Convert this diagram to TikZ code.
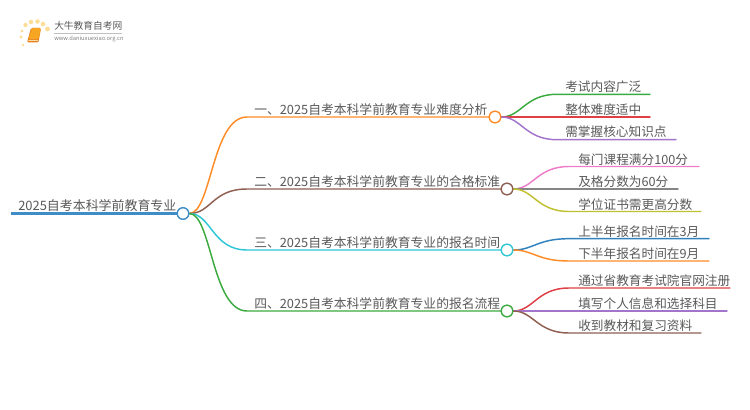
\documentclass[tikz,border=0pt]{standalone}
\usepackage{fontspec}
\setmainfont{Noto Sans CJK SC}[Scale=1]
\usetikzlibrary{calc}
\definecolor{txt}{HTML}{595959}
\definecolor{cblue}{HTML}{3F8CC6}
\definecolor{corange}{HTML}{FF8C26}
\definecolor{cbrown}{HTML}{8F5F52}
\definecolor{ccyan}{HTML}{2FC6D8}
\definecolor{cgreen}{HTML}{3BAA3F}
\definecolor{cred}{HTML}{DF4045}
\definecolor{cpurple}{HTML}{A274CC}
\definecolor{cpink}{HTML}{EE7CC8}
\definecolor{cgray}{HTML}{858585}
\definecolor{colive}{HTML}{C0C030}
\definecolor{dblue}{HTML}{2F82BE}
\definecolor{sun}{HTML}{FCDD96}
\definecolor{bookc}{HTML}{F6A623}
\definecolor{bookd}{HTML}{E8801A}
\tikzset{
 x=0.75pt,y=-0.75pt,
 wire/.style={line width=1.1pt,line cap=round},
 hub/.style={circle,draw,fill=white,line width=0.95pt,minimum size=8.6pt,inner sep=0pt},
 lab/.style={font=\fontsize{9.5pt}{11pt}\selectfont,text=txt,inner sep=0pt,anchor=base west},
 labb/.style={lab,font=\fontsize{9.6pt}{11pt}\selectfont},
 labr/.style={lab,font=\fontsize{9.7pt}{11pt}\selectfont},
 dot/.style={circle,fill=sun,inner sep=0pt},
}
\begin{document}
\begin{tikzpicture}
\useasboundingbox (0,0) rectangle (750,410);
% logo
\node[dot,minimum size=2pt] (s0) at (23,45) {};
\node[dot,minimum size=2.4pt] (s1) at (21,37) {};
\node[dot,minimum size=2.6pt] (s2) at (22,31) {};
\node[dot,minimum size=3.2pt] (s3) at (25.5,25) {};
\node[dot,minimum size=3.4pt] (s4) at (31,22) {};
\node[dot,minimum size=3.4pt] (s5) at (37.5,21.5) {};
\node[dot,minimum size=3.4pt] (s6) at (43,24) {};
\node[dot,minimum size=3.6pt] (s7) at (47.5,29) {};
\path[fill=bookd,rounded corners=1pt] (31,28) -- (41,28) -- (38.5,42.5) -- (27,42.5) -- cycle;
\path[fill=bookc,rounded corners=1pt] (32,28) -- (41,28) -- (38.5,39) -- (28.5,39) -- cycle;
\path[fill=white!60!bookc] (28.5,40) -- (38.2,40) -- (38,41) -- (28.3,41) -- cycle;
\node[font=\fontsize{7.3pt}{8pt}\selectfont,text=txt,inner sep=0pt,anchor=west] (logot) at (54,26) {大牛教育自考网};
\draw[gray!50,line width=0.4pt] (54,33.5) -- (122,33.5);
\node[font=\fontsize{4.3pt}{5pt}\selectfont,text=gray,inner sep=0pt,anchor=west] (logou) at (54,39) {www.daniuxuexiao.org.cn};
% hubs
\node[hub,draw=cblue] (root) at (183,213.5) {};
\node[hub,draw=corange] (b1) at (495,117) {};
\node[hub,draw=cbrown] (b2) at (507,189) {};
\node[hub,draw=ccyan] (b3) at (507,250) {};
\node[hub,draw=cgreen] (b4) at (507,311) {};
% coordinates
\coordinate (r0) at (11,213.5);
\coordinate (s1a) at (247,117);\coordinate (s2a) at (247,189);\coordinate (s3a) at (247,250);\coordinate (s4a) at (247,311);
\coordinate (a1) at (557,94.3);\coordinate (a1e) at (650,94.3);
\coordinate (a2) at (557,117);\coordinate (a2e) at (650,117);
\coordinate (a3) at (557,139.7);\coordinate (a3e) at (676,139.7);
\coordinate (c1) at (569,166.5);\coordinate (c1e) at (699,166.5);
\coordinate (c2) at (569,189);\coordinate (c2e) at (678,189);
\coordinate (c3) at (569,211.5);\coordinate (c3e) at (701,211.5);
\coordinate (d1) at (569,238.7);\coordinate (d1e) at (709,238.7);
\coordinate (d2) at (569,261);\coordinate (d2e) at (709,261);
\coordinate (e1) at (569,288);\coordinate (e1e) at (730,288);
\coordinate (e2) at (569,311);\coordinate (e2e) at (727,311);
\coordinate (e3) at (569,333);\coordinate (e3e) at (701,333);
% root line
\draw[line width=1.7pt,cblue] (r0) -- (root.west);
% main branches
\foreach \col/\hubn/\st in {corange/b1/s1a,cbrown/b2/s2a,ccyan/b3/s3a,cgreen/b4/s4a}{
 \draw[wire,\col] (root.east) .. controls ($(root.east)+(22,0)$) and ($(\st)+(-35,0)$) .. (\st) -- (\hubn.west);
}
% leaf branches
\foreach \col/\hubn/\st/\en in {cgreen/b1/a1/a1e,cred/b1/a2/a2e,cpurple/b1/a3/a3e,cpink/b2/c1/c1e,cgray/b2/c2/c2e,colive/b2/c3/c3e,dblue/b3/d1/d1e,corange/b3/d2/d2e,cred/b4/e1/e1e,cpurple/b4/e2/e2e,cbrown/b4/e3/e3e}{
 \draw[wire,\col] (\hubn.east) .. controls ($(\hubn.east)+(20,0)$) and ($(\st)+(-32,0)$) .. (\st) -- (\en);
}
% redraw hubs over the wires
\node[hub,draw=cblue] at (root) {};
\node[hub,draw=corange] at (b1) {};
\node[hub,draw=cbrown] at (b2) {};
\node[hub,draw=ccyan] at (b3) {};
\node[hub,draw=cgreen] at (b4) {};
% labels
\node[labr] (troot) at (18,210.5) {2025自考本科学前教育专业};
\node[labb] (t1) at (254,114) {一、2025自考本科学前教育专业难度分析};
\node[labb] (t2) at (254,186) {二、2025自考本科学前教育专业的合格标准};
\node[labb] (t3) at (254,247) {三、2025自考本科学前教育专业的报名时间};
\node[labb] (t4) at (254,308) {四、2025自考本科学前教育专业的报名流程};
\node[lab] (ta1) at (565,91.5) {考试内容广泛};
\node[lab] (ta2) at (565,114.5) {整体难度适中};
\node[lab] (ta3) at (565,137) {需掌握核心知识点};
\node[lab] (tc1) at (578,164) {每门课程满分100分};
\node[lab] (tc2) at (578,186.5) {及格分数为60分};
\node[lab] (tc3) at (578,209) {学位证书需更高分数};
\node[lab] (td1) at (578,236) {上半年报名时间在3月};
\node[lab] (td2) at (578,258.5) {下半年报名时间在9月};
\node[lab] (te1) at (578,285) {通过省教育考试院官网注册};
\node[lab] (te2) at (578,308.5) {填写个人信息和选择科目};
\node[lab] (te3) at (578,330) {收到教材和复习资料};
\end{tikzpicture}
\end{document}
